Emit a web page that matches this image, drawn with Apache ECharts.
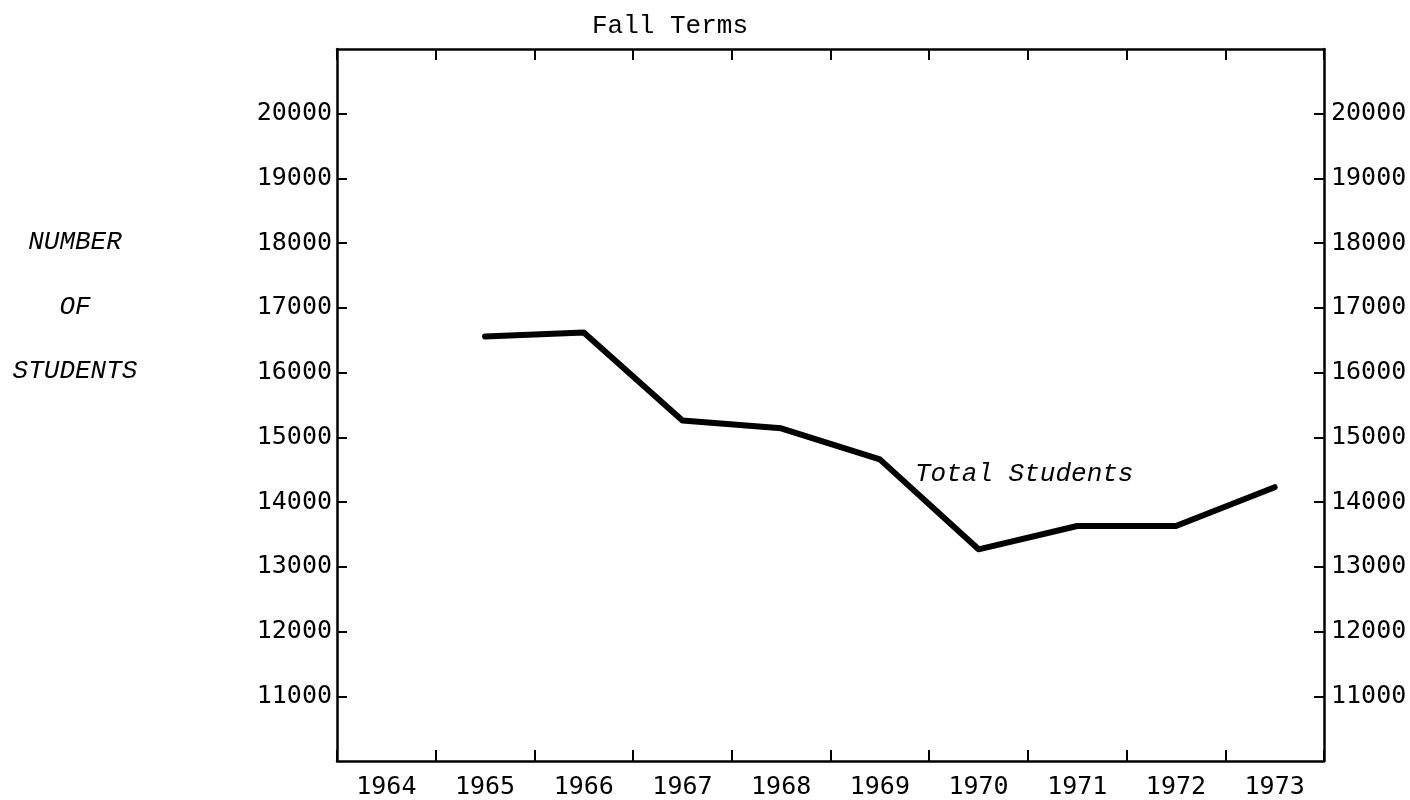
<!DOCTYPE html>
<html>
<head>
<meta charset="utf-8">
<script src="https://cdn.jsdelivr.net/npm/echarts@6/dist/echarts.min.js"></script>
<style>
html,body{margin:0;padding:0;background:#fff;}
#chart{width:1410px;height:800px;}
</style>
</head>
<body>
<div id="chart"></div>
<script>
const years = ['1964','1965','1966','1967','1968','1969','1970','1971','1972','1973'];
const totalStudents = [null, 16560, 16620, 15260, 15140, 14660, 13270, 13630, 13630, 14230];
const yMin = 10000, yMax = 21000, yStep = 1000;
const titleText = 'Fall Terms';
const yTitleLines = ['NUMBER', 'OF', 'STUDENTS'];
const seriesLabel = 'Total Students';

const mono = '"Courier New", "Liberation Mono", monospace';
const tickFont = '"DejaVu Sans Mono", monospace';
const axisLine = {show: true, lineStyle: {color: '#000', width: 2.5}};

const chart = echarts.init(document.getElementById('chart'), null, {renderer: 'canvas'});
chart.setOption({
  animation: false,
  backgroundColor: '#fff',
  title: {
    text: titleText, left: 587, top: 8,
    textStyle: {fontFamily: mono, fontSize: 26, fontWeight: 'normal', color: '#000'}
  },
  grid: {left: 337, right: 86, top: 49, bottom: 38, containLabel: false},
  xAxis: [
    {
      type: 'category', data: years, position: 'bottom', boundaryGap: true,
      axisLine: axisLine,
      axisTick: {show: true, inside: true, length: 11, lineStyle: {color: '#000', width: 2}},
      axisLabel: {fontFamily: tickFont, fontSize: 25, color: '#000', margin: 14},
      splitLine: {show: false}
    },
    {
      type: 'category', data: years, position: 'top', boundaryGap: true,
      axisLine: axisLine,
      axisTick: {show: true, inside: true, length: 11, lineStyle: {color: '#000', width: 2}},
      axisLabel: {show: false},
      splitLine: {show: false}
    }
  ],
  yAxis: [
    {
      type: 'value', position: 'left', min: yMin, max: yMax, interval: yStep,
      axisLine: axisLine,
      axisTick: {show: true, inside: true, length: 10, lineStyle: {color: '#000', width: 2}},
      axisLabel: {fontFamily: tickFont, fontSize: 25, color: '#000', margin: 5,
        showMinLabel: false, showMaxLabel: false,
        formatter: v => (v === yMin || v === yMax) ? '' : String(v)},
      splitLine: {show: false}
    },
    {
      type: 'value', position: 'right', min: yMin, max: yMax, interval: yStep,
      axisLine: axisLine,
      axisTick: {show: true, inside: true, length: 10, lineStyle: {color: '#000', width: 2}},
      axisLabel: {fontFamily: tickFont, fontSize: 25, color: '#000', margin: 7,
        showMinLabel: false, showMaxLabel: false,
        formatter: v => (v === yMin || v === yMax) ? '' : String(v)},
      splitLine: {show: false}
    }
  ],
  series: [{
    name: seriesLabel,
    type: 'line',
    data: totalStudents,
    xAxisIndex: 0, yAxisIndex: 0,
    showSymbol: false,
    symbol: 'none',
    lineStyle: {color: '#000', width: 6, join: 'round', cap: 'round'},
    connectNulls: false
  }],
  graphic: [
    {
      type: 'text', left: 915, top: 461,
      style: {text: seriesLabel, font: 'italic 26px ' + mono, fill: '#000'}
    },
    {
      type: 'text', x: 75, y: 307,
      style: {text: yTitleLines.join('\n'), font: 'italic 26px ' + mono, fill: '#000',
        align: 'center', verticalAlign: 'middle', lineHeight: 64.5}
    }
  ]
});
</script>
</body>
</html>
